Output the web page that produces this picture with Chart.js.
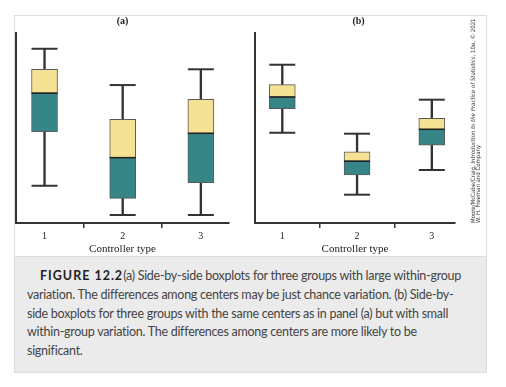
<!DOCTYPE html>
<html>
<head>
<meta charset="utf-8">
<title>Figure 12.2</title>
<script src="https://cdn.jsdelivr.net/npm/chart.js@4.4.0/dist/chart.umd.min.js"></script>
<style>
  body { margin: 0; background: #fff; width: 506px; height: 387px; position: relative; overflow: hidden; }
  #frame { position: absolute; left: 14px; top: 15px; width: 473px; height: 242px; border: 1px solid #ddd; border-bottom: none; box-sizing: border-box; }
  #wrapA { position: absolute; left: 0; top: 0; width: 250px; height: 258px; }
  #wrapB { position: absolute; left: 240px; top: 0; width: 230px; height: 258px; }
  #credit { position: absolute; left: 470px; top: 223px; transform: rotate(-90deg); transform-origin: left top;
            font-family: "Liberation Sans Narrow", "DejaVu Sans Condensed", sans-serif; font-size: 6px; line-height: 5px;
            color: #333; white-space: nowrap; }
  #caption { position: absolute; left: 14px; top: 256px; width: 473px; height: 117px; background: #ebebeb;
             border: 1px solid #dcdcdc; box-sizing: border-box; }
  #caption p { margin: 0; position: absolute; left: 12px; top: 10px; font-family: Lato, "Open Sans", sans-serif;
               font-size: 12.5px; letter-spacing: -0.27px; line-height: 18.8px; color: #444; white-space: nowrap; }
  #caption b { color: #222; letter-spacing: 1px; margin-left: 13px; }
</style>
</head>
<body>
<div id="frame"></div>
<div id="wrapA"><canvas id="panelA" width="250" height="258"></canvas></div>
<div id="wrapB"><canvas id="panelB" width="230" height="258"></canvas></div>
<div id="credit">Moore/McCabe/Craig, <i>Introduction to the Practice of Statistics</i>, 10e, © 2021<br>W. H. Freeman and Company</div>
<div id="caption"><p><b>FIGURE 12.2</b>(a) Side-by-side boxplots for three groups with large within-group<br>variation. The differences among centers may be just chance variation. (b) Side-by-<br>side boxplots for three groups with the same centers as in panel (a) but with small<br>within-group variation. The differences among centers are more likely to be<br>significant.</p></div>

<script>
// groups on the x axis
const groups = [1, 2, 3];
const tickLabels = ['1', '2', '3'];

// panel (a): large within-group variation
const aLow  = [19.6, 4.2, 4.2];
const aQ1   = [48.1, 13.0, 21.2];
const aMed  = [68.3, 34.4, 47.2];
const aQ3   = [80.9, 54.6, 65.1];
const aHigh = [91.7, 72.6, 80.9];

// panel (b): small within-group variation
const bLow  = [47.5, 14.9, 27.9];
const bQ1   = [60.2, 25.3, 40.9];
const bMed  = [66.3, 32.5, 49.3];
const bQ3   = [72.8, 37.5, 55.1];
const bHigh = [83.3, 47.0, 64.9];

const teal = '#368687';
const yellow = '#f4e193';
const ink = '#333';

function boxChart(id, title, low, q1, med, q3, high, xMin, xMax, pad) {
    let pts = (arr) => groups.map((g, i) => ({ x: g, y: arr[i] }));
    let span = (a, b) => groups.map((g, i) => ({ x: g, y: [a[i], b[i]] }));
    let caps = pts(low).concat(pts(high));

    return new Chart(document.getElementById(id), {
        type: 'bar',
        data: {
            datasets: [
                { type: 'line', data: pts(med), showLine: false, pointStyle: 'line', pointRadius: 13,
                  pointBorderWidth: 1.5, pointBorderColor: '#222', order: 0 },
                { type: 'bar', data: span(q1, med), backgroundColor: teal, borderColor: '#5a5a5a', borderWidth: 1,
                  borderSkipped: false, barThickness: 26, grouped: false, order: 1 },
                { type: 'bar', data: span(med, q3), backgroundColor: yellow, borderColor: '#5a5a5a', borderWidth: 1,
                  borderSkipped: false, barThickness: 26, grouped: false, order: 1 },
                { type: 'line', data: caps, showLine: false, pointStyle: 'line', pointRadius: 13,
                  pointBorderWidth: 2, pointBorderColor: ink, order: 2 },
                { type: 'bar', data: span(low, high), backgroundColor: ink, borderWidth: 0,
                  barThickness: 1.7, grouped: false, order: 3 }
            ]
        },
        options: {
            responsive: false,
            animation: false,
            layout: { padding: pad },
            plugins: {
                legend: { display: false },
                tooltip: { enabled: false },
                title: { display: true, text: title, color: '#222', padding: { top: 0, bottom: 6 },
                         font: { family: 'Liberation Serif', size: 10, weight: 'bold' } }
            },
            scales: {
                x: {
                    type: 'linear', min: xMin, max: xMax, offset: false,
                    afterBuildTicks: (s) => { s.ticks = groups.map(v => ({ value: v })); },
                    ticks: { callback: (v, i) => tickLabels[i], color: '#222', padding: 3, maxRotation: 0, autoSkip: false,
                             font: { family: 'Liberation Serif', size: 10, lineHeight: 1 } },
                    grid: { drawOnChartArea: false, drawTicks: true, tickLength: 5, color: ink, lineWidth: 1.5 },
                    border: { color: ink, width: 2 },
                    title: { display: true, text: 'Controller type', color: '#222', padding: { top: 0, bottom: 3 },
                             font: { family: 'Liberation Serif', size: 11, lineHeight: 1 } }
                },
                y: {
                    min: 0, max: 100,
                    ticks: { display: false },
                    grid: { display: false, drawTicks: false },
                    border: { color: ink, width: 2 }
                }
            }
        }
    });
}

boxChart('panelA', '(a)', aLow, aQ1, aMed, aQ3, aHigh, 0.635, 3.36, { left: 16, right: 21, top: 15, bottom: 0 });
boxChart('panelB', '(b)', bLow, bQ1, bMed, bQ3, bHigh, 0.635, 3.31, { left: 14, right: 7, top: 15, bottom: 0 });
</script>
</body>
</html>
